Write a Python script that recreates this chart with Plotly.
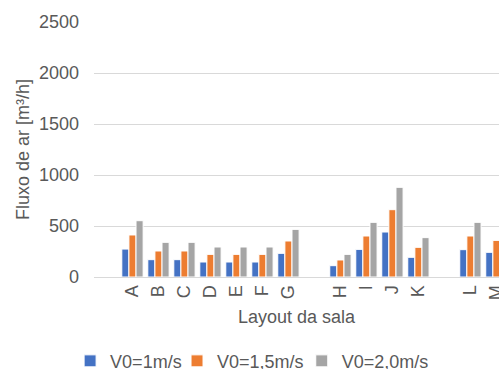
import plotly.graph_objects as go

categories = ["A", "B", "C", "D", "E", "F", "G", " ", "H", "I", "J", "K", "  ", "L", "M"]
v1 = [274, 170, 170, 147, 147, 147, 232, None, 111, 271, 441, 193, None, 268, 242]
v15 = [412, 255, 255, 222, 222, 222, 353, None, 167, 402, 660, 291, None, 402, 359]
v20 = [552, 340, 340, 294, 294, 294, 467, None, 222, 536, 879, 386, None, 536, 484]
series_names = ["V0=1m/s", "V0=1,5m/s", "V0=2,0m/s"]
colors = ["#4472C4", "#ED7D31", "#A5A5A5"]

FONT = "Liberation Sans, Arial, sans-serif"
TXT = "#595959"

legend_ids = ["legend", "legend2", "legend3"]
legend_x = [-0.059, 0.205, 0.513]

fig = go.Figure()
for name, vals, col, lid in zip(series_names, [v1, v15, v20], colors, legend_ids):
    fig.add_trace(go.Bar(
        x=categories, y=vals, name=name, legend=lid,
        marker=dict(color=col, line=dict(color="white", width=1)),
    ))

leg_common = dict(
    orientation="h", xanchor="left", y=-0.33, yanchor="middle",
    font=dict(family=FONT, size=18, color=TXT),
    bgcolor="rgba(0,0,0,0)", borderwidth=0, itemclick=False,
)

fig.update_layout(
    width=499, height=369, autosize=False,
    margin=dict(l=94, r=0, t=22, b=92, autoexpand=False),
    paper_bgcolor="white", plot_bgcolor="white",
    barmode="group", bargap=0.18, bargroupgap=0,
    font=dict(family=FONT, size=18, color=TXT),
    showlegend=True,
    legend=dict(x=legend_x[0], **leg_common),
    legend2=dict(x=legend_x[1], **leg_common),
    legend3=dict(x=legend_x[2], **leg_common),
)
fig.update_xaxes(
    type="category", categoryorder="array", categoryarray=categories,
    range=[-1.48, 14.1], tickangle=-90, automargin=False,
    showline=True, linecolor="#D9D9D9", linewidth=1,
    showgrid=False, ticks="",
    tickfont=dict(family=FONT, size=18, color=TXT),
    title=dict(text="Layout da sala", font=dict(family=FONT, size=18, color=TXT), standoff=11),
)
fig.update_yaxes(
    range=[0, 2500], dtick=500, tick0=0, automargin=False,
    showgrid=True, gridcolor="#D9D9D9", gridwidth=1,
    zeroline=False, showline=False, ticks="",
    ticklabelstandoff=14,
    tickfont=dict(family=FONT, size=18, color=TXT),
    title=dict(text="Fluxo de ar [m³/h]", font=dict(family=FONT, size=18, color=TXT), standoff=4),
)

fig.write_html("out.html")
